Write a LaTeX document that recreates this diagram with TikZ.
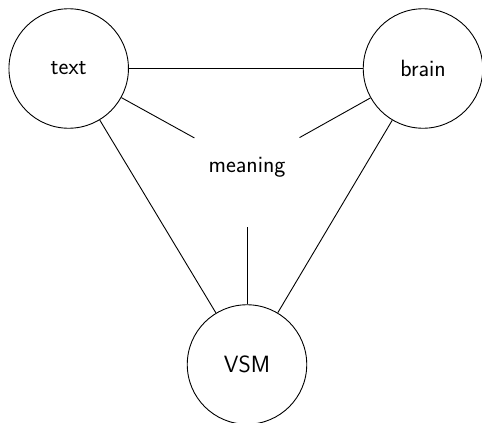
\documentclass[tikz,border=0pt]{standalone}
\begin{document}
\begin{tikzpicture}[x=1pt,y=1pt,
  vert/.style={circle,draw,line width=0.9pt,minimum size=119.5pt,inner sep=0pt,font=\sffamily\fontsize{23.5}{28}\selectfont},
  hidden/.style={circle,minimum size=120pt,inner sep=0pt,font=\sffamily\fontsize{23.5}{28}\selectfont},
  edge/.style={line width=0.9pt}]
\useasboundingbox (0,0) rectangle (482,-423);
\node[vert] (text) at (68.7,-68.5) {text};
\node[vert] (brain) at (423,-68.5) {brain};
\node[vert] (vsm) at (247,-364.5) {VSM};
\node[hidden] (meaning) at (247,-167) {meaning};
\draw[edge] (text) -- (brain);
\draw[edge] (text) -- (vsm);
\draw[edge] (brain) -- (vsm);
\draw[edge] (text) -- (meaning);
\draw[edge] (brain) -- (meaning);
\draw[edge] (vsm) -- (meaning);
\end{tikzpicture}
\end{document}
